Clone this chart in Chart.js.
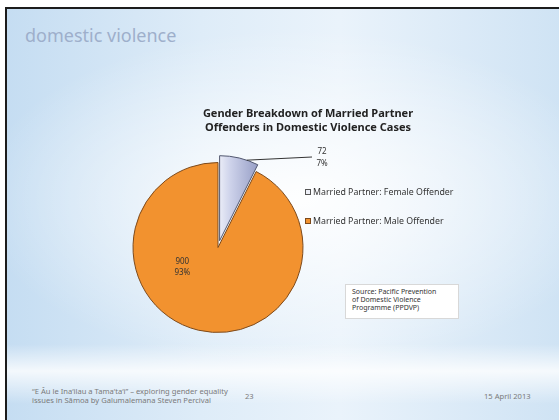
<!DOCTYPE html>
<html>
<head>
<meta charset="utf-8">
<title>domestic violence</title>
<script src="https://cdn.jsdelivr.net/npm/chart.js@4.4.1/dist/chart.umd.min.js"></script>
<style>
  html, body { margin: 0; padding: 0; width: 559px; height: 420px; overflow: hidden; background: #fff; }
  .slide {
    position: absolute; left: 5px; top: 7px; width: 554px; height: 413px;
    border-top: 2px solid #1c1c1c; border-left: 2px solid #1c1c1c;
    background:
      radial-gradient(ellipse 320px 170px at 290px 190px, rgba(255,255,255,0.95), rgba(255,255,255,0) 100%),
      linear-gradient(to bottom, rgba(255,255,255,0) 0px, rgba(255,255,255,0) 335px, rgba(255,255,255,0.8) 362px, rgba(255,255,255,0) 395px),
      linear-gradient(to right, #c5ddf2 0%, #deecf8 35%, #eaf3fb 60%, #cfe3f4 100%);
  }
  .heading { position: absolute; left: 25px; top: 23px; font: 18px "Noto Sans", sans-serif; color: #9eafcb; }
  .source {
    position: absolute; left: 345px; top: 284px; width: 106px; height: 30px;
    padding: 3px 0 0 6px; background: #fff; border: 1px solid #d8d8d8;
    font: 7px/8px "Noto Sans", sans-serif; color: #333;
  }
  .footer { position: absolute; font: 7.6px/8.5px "Noto Sans", sans-serif; color: #7a7a7a; white-space: nowrap; }
  #wrap { position: absolute; left: 0; top: 0; width: 559px; height: 420px; }
</style>
</head>
<body>
<div class="slide"></div>
<div class="heading">domestic violence</div>
<div class="source">Source: Pacific Prevention<br>of Domestic Violence<br>Programme (PPDVP)</div>
<div class="footer" style="left:32px; top:387px;">“E Âu le Ina‘ilau a Tama‘ta‘i” – exploring gender equality<br>issues in Sāmoa by Galumalemana Steven Percival</div>
<div class="footer" style="left:245px; top:392px;">23</div>
<div class="footer" style="left:484px; top:392px;">15 April 2013</div>
<div id="wrap"><canvas id="pie"></canvas></div>
<script>
// data
const categories = ['Married Partner: Female Offender', 'Married Partner: Male Offender'];
const offenders = [72, 900];
const percents = ['7%', '93%'];
const chartTitle = ['Gender Breakdown of Married Partner', 'Offenders in Domestic Violence Cases'];

const EXPLODE = [7, 0]; // px the female slice is pulled out
const ORANGE = '#f2922f';

function femaleFill(chart) {
  const a = chart.chartArea;
  if (!a) return '#c4cae4';
  const cx = (a.left + a.right) / 2;
  const g = chart.ctx.createLinearGradient(cx, 0, cx + 42, 0);
  g.addColorStop(0, '#eef0f9');
  g.addColorStop(0.3, '#cdd2ea');
  g.addColorStop(1, '#939bc4');
  return g;
}

const explodePlugin = {
  id: 'explode',
  afterDatasetUpdate(chart, args) {
    const meta = chart.getDatasetMeta(args.index);
    meta.data.forEach((arc, i) => {
      const d = EXPLODE[i] || 0;
      if (!d) return;
      const mid = (arc.startAngle + arc.endAngle) / 2;
      arc.x += Math.cos(mid) * d;
      arc.y += Math.sin(mid) * d;
    });
  }
};

const textPlugin = {
  id: 'slideText',
  afterDatasetsDraw(chart) {
    const ctx = chart.ctx;
    const arcs = chart.getDatasetMeta(0).data;
    ctx.save();
    ctx.fillStyle = '#222';
    ctx.textAlign = 'center';
    ctx.textBaseline = 'middle';

    // title
    ctx.font = 'bold 11px "Noto Sans", sans-serif';
    ctx.fillText(chartTitle[0], 308, 114);
    ctx.fillText(chartTitle[1], 308, 128);

    // female label with leader line
    const f = arcs[0];
    const a = f.startAngle + 0.7 * (f.endAngle - f.startAngle);
    const sx = f.x + Math.cos(a) * f.outerRadius;
    const sy = f.y + Math.sin(a) * f.outerRadius;
    ctx.strokeStyle = '#333';
    ctx.lineWidth = 1;
    ctx.beginPath();
    ctx.moveTo(sx, sy);
    ctx.lineTo(312, 157);
    ctx.stroke();
    ctx.font = '8px "Noto Sans", sans-serif';
    ctx.fillStyle = '#333';
    ctx.fillText(String(offenders[0]), 322, 152);
    ctx.fillText(percents[0], 322, 164);

    // male label inside the slice
    const m = arcs[1];
    const la = 151 * Math.PI / 180, lr = m.outerRadius * 0.48;
    const mx = m.x + Math.cos(la) * lr, my = m.y + Math.sin(la) * lr;
    ctx.fillText(String(offenders[1]), mx, my - 5.5);
    ctx.fillText(percents[1], mx, my + 5.5);

    // legend
    ctx.textAlign = 'left';
    ctx.font = '8.8px "Noto Sans", sans-serif';
    const rows = [192, 221];
    categories.forEach((c, i) => {
      ctx.fillStyle = i === 0 ? '#eef0f8' : ORANGE;
      ctx.fillRect(305, rows[i] - 3, 6, 6);
      ctx.strokeStyle = i === 0 ? '#555' : '#7d4a1c';
      ctx.strokeRect(305.5, rows[i] - 2.5, 5, 5);
      ctx.fillStyle = '#333';
      ctx.fillText(c, 313, rows[i]);
    });
    ctx.restore();
  }
};

new Chart(document.getElementById('pie'), {
  type: 'pie',
  data: {
    labels: categories,
    datasets: [{
      data: offenders,
      backgroundColor: (c) => c.dataIndex === 0 ? femaleFill(c.chart) : ORANGE,
      borderColor: ['#50566e', '#7d4a1c'],
      borderWidth: 1,
      radius: 85
    }]
  },
  options: {
    responsive: true,
    maintainAspectRatio: false,
    animation: false,
    layout: { padding: { left: 118, right: 241, top: 147, bottom: 72 } },
    plugins: { legend: { display: false }, tooltip: { enabled: false } }
  },
  plugins: [explodePlugin, textPlugin]
});
</script>
</body>
</html>
